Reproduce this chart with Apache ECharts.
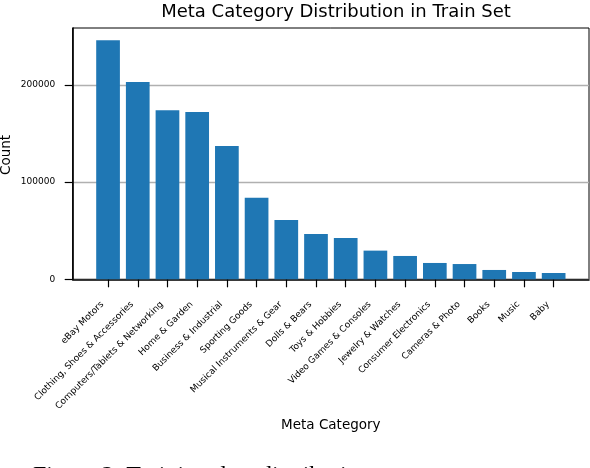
<!DOCTYPE html>
<html>
<head>
<meta charset="utf-8">
<script src="https://cdn.jsdelivr.net/npm/echarts@6/dist/echarts.min.js"></script>
<style>
html,body{margin:0;padding:0;background:#fff;}
#c{width:590px;height:468px;}
</style>
</head>
<body>
<div id="c"></div>
<script>
var categories = ["eBay Motors","Clothing, Shoes & Accessories","Computers/Tablets & Networking","Home & Garden","Business & Industrial","Sporting Goods","Musical Instruments & Gear","Dolls & Bears","Toys & Hobbies","Video Games & Consoles","Jewelry & Watches","Consumer Electronics","Cameras & Photo","Books","Music","Baby"];
var counts = [246000,203000,174000,172000,137000,83800,61100,46700,42600,29500,24000,16800,15700,9600,7500,6500];
var yTicks = [0,100000,200000];

var positions = categories.map(function(_, i){ return i; });
var barData = counts.map(function(v, i){ return [i, v]; });
var font = "DejaVu Sans";

var chart = echarts.init(document.getElementById('c'), null, {renderer:'canvas'});
chart.setOption({
  animation:false,
  backgroundColor:'#ffffff',
  title:{
    text:'Meta Category Distribution in Train Set',
    left:331, top:-2, textAlign:'center',
    textStyle:{fontFamily:font,fontSize:18,fontWeight:'normal',color:'#000'}
  },
  graphic:[{
    type:'text', left:33, top:464, silent:true,
    style:{text:'Figure 2: Training data distribution', font:'24px "Liberation Serif"', fill:'#000'}
  },{
    type:'text', x:6, y:155, rotation:Math.PI/2, silent:true,
    style:{text:'Count', font:'13.5px "DejaVu Sans"', fill:'#000', align:'center', verticalAlign:'middle'}
  }],
  grid:{left:72.7, top:28, right:1, bottom:188.7, containLabel:false, outerBoundsMode:'none',
    show:true, borderColor:'#000', borderWidth:1, backgroundColor:'transparent'},
  xAxis:{
    type:'value', min:-1.19, max:16.19,
    name:'Meta Category', nameLocation:'middle', nameGap:139, nameMoveOverlap:false,
    nameTextStyle:{fontFamily:font,fontSize:13.5,color:'#000'},
    axisLine:{show:true,onZero:false,lineStyle:{color:'#000',width:1.6}},
    axisTick:{show:true,customValues:positions,length:8,lineStyle:{color:'#000',width:1.2}},
    axisLabel:{show:true,customValues:positions,rotate:45,margin:18,padding:[0,8,0,0],fontFamily:font,fontSize:9,color:'#000',
      formatter:function(v){ return categories[Math.round(v)] || ''; }},
    splitLine:{show:false}
  },
  yAxis:{
    type:'value', min:0, max:258500, interval:100000,
    axisLine:{show:true,onZero:false,lineStyle:{color:'#000',width:1.6}},
    axisTick:{show:true,customValues:yTicks,length:8,lineStyle:{color:'#000',width:1.2}},
    axisLabel:{customValues:yTicks,margin:17.5,fontFamily:font,fontSize:9,color:'#000',
      formatter:function(v){ return String(v); }},
    splitLine:{show:true,lineStyle:{color:'#b0b0b0',width:1.4}}
  },
  series:[{
    type:'bar', data:barData, barWidth:23.7,
    itemStyle:{color:'#1f77b4'}, z:1
  }]
});
</script>
</body>
</html>
